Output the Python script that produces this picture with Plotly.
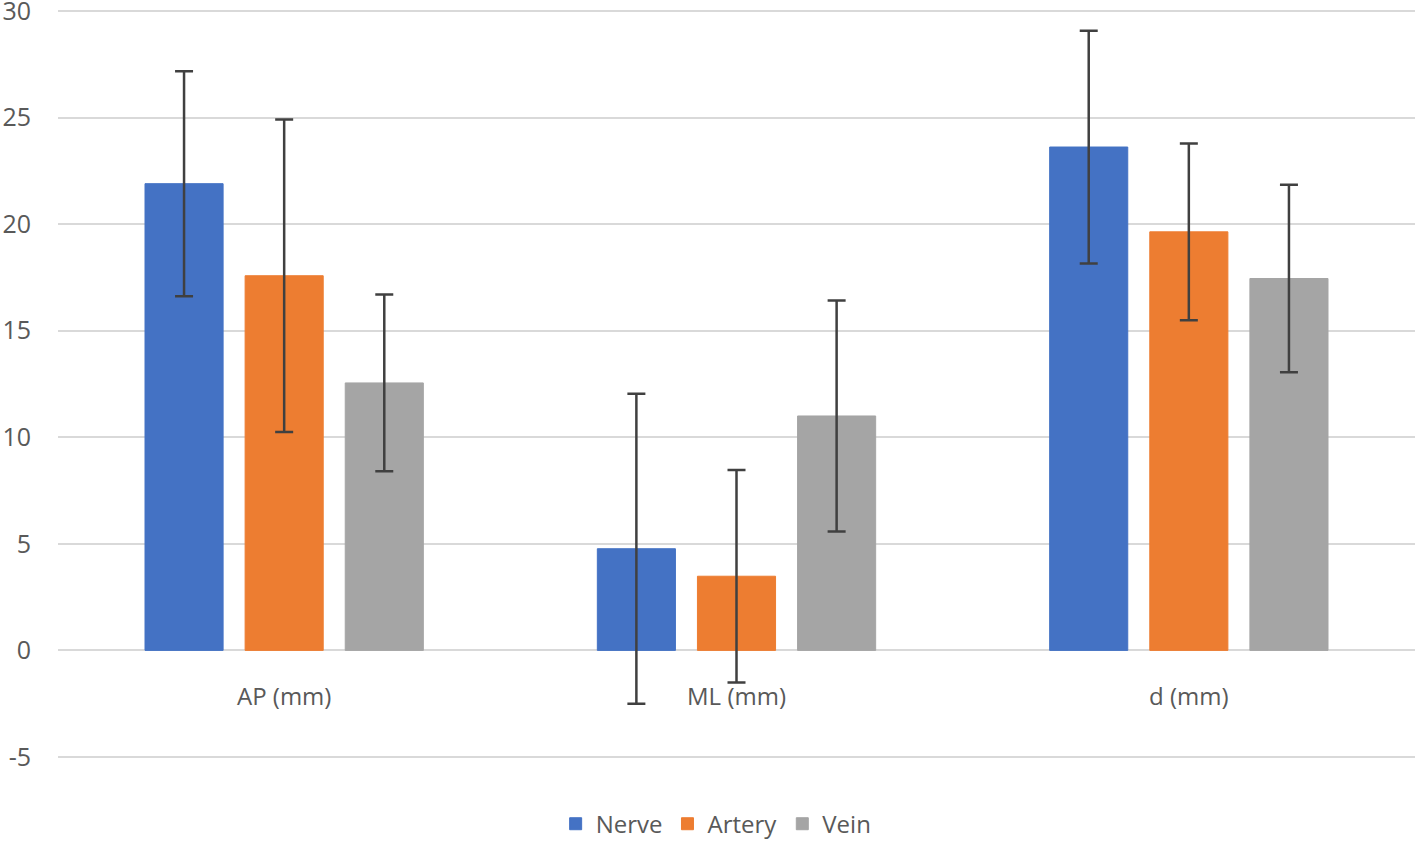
import plotly.graph_objects as go

categories = ["AP (mm)", "ML (mm)", "d (mm)"]
series_names = ["Nerve", "Artery", "Vein"]
nerve = [21.9, 4.77, 23.62]
artery = [17.58, 3.48, 19.64]
vein = [12.55, 11.0, 17.45]
nerve_err = [5.28, 7.27, 5.46]
artery_err = [7.33, 4.99, 4.15]
vein_err = [4.15, 5.42, 4.4]
colors = ["#4472C4", "#ED7D31", "#A5A5A5"]
y_ticks = [-5, 0, 5, 10, 15, 20, 25, 30]
y_tick_labels = ["-5", "0", "5", "10", "15", "20", "25", "30"]

fig = go.Figure()
for name, vals, errs, col in zip(series_names, [nerve, artery, vein],
                                 [nerve_err, artery_err, vein_err], colors):
    fig.add_trace(go.Bar(
        name=name, x=categories, y=vals,
        marker=dict(color=col, line=dict(color=col, width=1)),
        error_y=dict(type="data", array=errs, visible=True,
                     color="#404040", thickness=2.5, width=9),
    ))

ymin, ymax = -5.05, 30.05
fig.update_layout(
    width=1418, height=848,
    margin=dict(l=58, r=3, t=10, b=89),
    paper_bgcolor="white", plot_bgcolor="white",
    barmode="group", bargap=0.336, bargroupgap=0.22,
    font=dict(family="Open Sans, Noto Sans, sans-serif", size=24, color="#595959"),
    legend=dict(orientation="h", x=0.485, xanchor="center", y=-0.117, yanchor="bottom",
                font=dict(size=24, color="#595959"), itemwidth=30, tracegroupgap=0),
    yaxis=dict(range=[ymin, ymax], tickvals=y_ticks, ticktext=y_tick_labels,
               showgrid=True, gridcolor="#D9D9D9",
               gridwidth=2, zeroline=False, showline=False, ticks="",
               ticklabelstandoff=26, automargin=False, tickfont=dict(size=25),
               ticklabeloverflow="allow"),
    xaxis=dict(anchor="free", position=(0 - ymin) / (ymax - ymin), showgrid=False,
               showline=False, zeroline=False, ticks="", ticklabelstandoff=30,
               automargin=False),
)

post = (
    "document.documentElement.style.margin='0';"
    "document.documentElement.style.padding='0';"
    "document.documentElement.style.overflow='hidden';"
    "document.body.style.margin='0';"
    "document.body.style.padding='0';"
    "document.body.style.overflow='hidden';"
)

fig.write_html("out.html", config={"displayModeBar": False}, post_script=post)
